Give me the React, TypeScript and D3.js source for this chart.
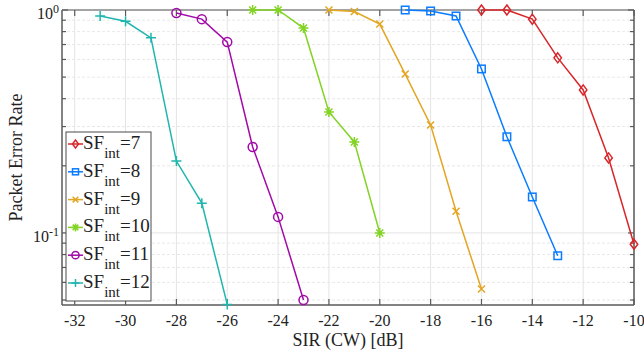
import React, { useEffect, useRef } from 'react';
import * as d3 from 'd3';

// SIR values and PER for each interfering SF
const sf7x = [-16, -15, -14, -13, -12, -11, -10];
const sf7y = [1.0, 1.0, 0.91, 0.61, 0.438, 0.217, 0.089];
const sf8x = [-19, -18, -17, -16, -15, -14, -13];
const sf8y = [1.0, 0.99, 0.94, 0.544, 0.27, 0.145, 0.079];
const sf9x = [-22, -21, -20, -19, -18, -17, -16];
const sf9y = [1.0, 0.985, 0.865, 0.516, 0.305, 0.125, 0.056];
const sf10x = [-25, -24, -23, -22, -21, -20];
const sf10y = [1.0, 1.0, 0.83, 0.349, 0.256, 0.1];
const sf11x = [-28, -27, -26, -25, -24, -23];
const sf11y = [0.97, 0.91, 0.718, 0.243, 0.118, 0.05];
const sf12x = [-31, -30, -29, -28, -27, -26];
const sf12y = [0.94, 0.89, 0.75, 0.21, 0.136, 0.0478];

const seriesNames = ['7', '8', '9', '10', '11', '12'];
const seriesColors = ['#d8262a', '#0a7cff', '#e3a622', '#82d323', '#a10aa8', '#20b5af'];
const seriesMarkers = ['diamond', 'square', 'x', 'asterisk', 'circle', 'plus'];
const xTicks = d3.range(-32, -9, 2);

const W = 644, H = 355;
const margin = { left: 62, right: 10, top: 10, bottom: 50 };

function drawMarker(g, type, x, y, color, s) {
  const m = g.append('g').attr('transform', `translate(${x},${y})`)
    .attr('stroke', color).attr('stroke-width', 1.5).attr('fill', 'none');
  if (type === 'diamond') {
    m.append('path').attr('d', `M0,${-s}L${s * 0.75},0L0,${s}L${-s * 0.75},0Z`);
  } else if (type === 'square') {
    m.append('rect').attr('x', -s * 0.75).attr('y', -s * 0.75).attr('width', s * 1.5).attr('height', s * 1.5);
  } else if (type === 'circle') {
    m.append('circle').attr('r', s * 0.9);
  } else if (type === 'plus') {
    m.append('path').attr('d', `M${-s},0H${s}M0,${-s}V${s}`);
  } else if (type === 'x') {
    const a = s * 0.7;
    m.append('path').attr('d', `M${-a},${-a}L${a},${a}M${-a},${a}L${a},${-a}`);
  } else if (type === 'asterisk') {
    const a = s * 0.7;
    m.append('path').attr('d', `M${-s},0H${s}M0,${-s}V${s}M${-a},${-a}L${a},${a}M${-a},${a}L${a},${-a}`);
  }
}

const App = () => {
  const svgRef = useRef(null);

  useEffect(() => {
    const svg = d3.select(svgRef.current);
    svg.selectAll('*').remove();
    const font = '"Liberation Serif", "DejaVu Serif", serif';

    const x = d3.scaleLinear().domain([-32.5, -10]).range([margin.left, W - margin.right]);
    const y = d3.scaleLog().domain([0.0475, 1]).range([H - margin.bottom, margin.top]);
    const x0 = margin.left, x1 = W - margin.right, y0 = H - margin.bottom, y1 = margin.top;

    svg.append('rect').attr('x', x0).attr('y', y1).attr('width', x1 - x0).attr('height', y0 - y1).attr('fill', '#fff');

    const minorY = [0.05, 0.06, 0.07, 0.08, 0.09, 0.2, 0.3, 0.4, 0.5, 0.6, 0.7, 0.8, 0.9];
    const majorY = [0.1, 1];

    const grid = svg.append('g');
    minorY.forEach(v => {
      grid.append('line').attr('x1', x0).attr('x2', x1).attr('y1', y(v)).attr('y2', y(v))
        .attr('stroke', '#e2e2e2').attr('stroke-width', 0.8).attr('stroke-dasharray', '3,2');
    });
    xTicks.forEach(v => {
      grid.append('line').attr('x1', x(v)).attr('x2', x(v)).attr('y1', y0).attr('y2', y1)
        .attr('stroke', '#e4e4e4').attr('stroke-width', 1);
    });
    majorY.forEach(v => {
      grid.append('line').attr('x1', x0).attr('x2', x1).attr('y1', y(v)).attr('y2', y(v))
        .attr('stroke', '#e4e4e4').attr('stroke-width', 1);
    });

    // axes frame and ticks
    const ax = svg.append('g').attr('stroke', '#5a5a5a');
    ax.append('line').attr('x1', x0).attr('x2', x1).attr('y1', y0).attr('y2', y0).attr('stroke-width', 1.5);
    ax.append('line').attr('x1', x0).attr('x2', x0).attr('y1', y0).attr('y2', y1).attr('stroke-width', 1.5);
    ax.append('line').attr('x1', x0).attr('x2', x1).attr('y1', y1).attr('y2', y1).attr('stroke-width', 1.5).attr('stroke', '#8a8a8a');
    ax.append('line').attr('x1', x1).attr('x2', x1).attr('y1', y0).attr('y2', y1).attr('stroke-width', 1.5);
    xTicks.forEach(v => {
      ax.append('line').attr('x1', x(v)).attr('x2', x(v)).attr('y1', y0).attr('y2', y0 - 6).attr('stroke-width', 1.2);
      ax.append('line').attr('x1', x(v)).attr('x2', x(v)).attr('y1', y1).attr('y2', y1 + 6).attr('stroke-width', 1.2);
    });
    minorY.concat(majorY).forEach(v => {
      const len = majorY.includes(v) ? 6 : 4;
      ax.append('line').attr('x1', x0).attr('x2', x0 + len).attr('y1', y(v)).attr('y2', y(v)).attr('stroke-width', 1.2);
      ax.append('line').attr('x1', x1).attr('x2', x1 - len).attr('y1', y(v)).attr('y2', y(v)).attr('stroke-width', 1.2);
    });

    const labels = svg.append('g').attr('font-family', font).attr('fill', '#222');
    xTicks.forEach(v => {
      labels.append('text').attr('x', x(v)).attr('y', y0 + 21).attr('text-anchor', 'middle')
        .attr('font-size', 16).text(v);
    });
    [[1, '0'], [0.1, '-1']].forEach(([v, e]) => {
      const t = labels.append('text').attr('x', x0 - 3).attr('y', y(v) + 9).attr('text-anchor', 'end').attr('font-size', 16);
      t.append('tspan').text('10');
      t.append('tspan').attr('dy', -6).attr('font-size', 12).text(e);
    });
    labels.append('text').attr('x', (x0 + x1) / 2).attr('y', H - 9).attr('text-anchor', 'middle')
      .attr('font-size', 18).text('SIR (CW) [dB]');
    labels.append('text').attr('transform', `translate(22,${(y0 + y1) / 2}) rotate(-90)`).attr('text-anchor', 'middle')
      .attr('font-size', 18).text('Packet Error Rate');

    const allX = [sf7x, sf8x, sf9x, sf10x, sf11x, sf12x];
    const allY = [sf7y, sf8y, sf9y, sf10y, sf11y, sf12y];
    const line = d3.line().x(d => x(d[0])).y(d => y(d[1]));
    const plot = svg.append('g');
    allX.forEach((xs, i) => {
      const pts = xs.map((v, j) => [v, allY[i][j]]);
      plot.append('path').attr('d', line(pts)).attr('fill', 'none')
        .attr('stroke', seriesColors[i]).attr('stroke-width', 1.5);
      pts.forEach(p => drawMarker(plot, seriesMarkers[i], x(p[0]), y(p[1]), seriesColors[i], 5));
    });

    // legend
    const lg = svg.append('g');
    const lx = 66, ly = 132, lw = 85, lh = 169;
    lg.append('rect').attr('x', lx).attr('y', ly).attr('width', lw).attr('height', lh)
      .attr('fill', '#fff').attr('stroke', '#4a4a4a').attr('stroke-width', 1);
    seriesNames.forEach((n, i) => {
      const cy = ly + 12 + i * 27.8;
      lg.append('line').attr('x1', lx + 2).attr('x2', lx + 17).attr('y1', cy).attr('y2', cy)
        .attr('stroke', seriesColors[i]).attr('stroke-width', 1.5);
      drawMarker(lg, seriesMarkers[i], lx + 9.5, cy, seriesColors[i], 4);
      const t = lg.append('text').attr('x', lx + 17).attr('y', cy + 5).attr('font-family', font)
        .attr('font-size', 19).attr('fill', '#222');
      t.append('tspan').text('SF');
      t.append('tspan').attr('dy', 9).attr('font-size', 15).text('int');
      t.append('tspan').attr('dy', -9).attr('font-size', 19).text('=' + n);
    });
  }, []);

  return <svg ref={svgRef} width={W} height={H} style={{ position: 'absolute', left: 0, top: 0, background: '#fff' }} />;
};

export default App;
